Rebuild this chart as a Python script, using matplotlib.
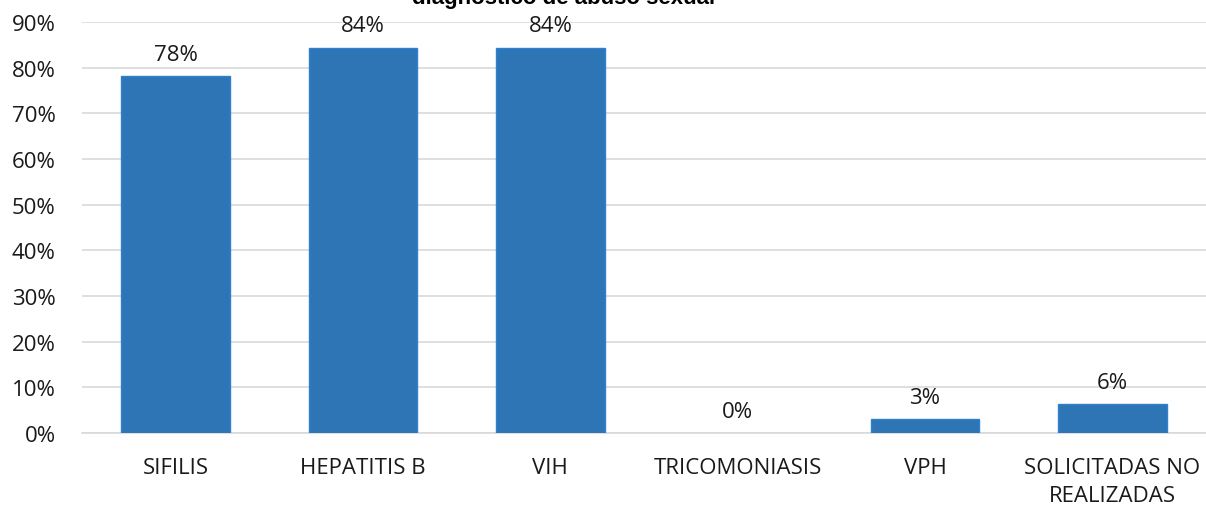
import numpy as np
import matplotlib.pyplot as plt

categorias = ['SIFILIS', 'HEPATITIS B', 'VIH', 'TRICOMONIASIS', 'VPH',
              'SOLICITADAS NO\nREALIZADAS']
valores = [78.1, 84.4, 84.4, 0.0, 3.1, 6.25]
etiquetas = ['78%', '84%', '84%', '0%', '3%', '6%']
yticks = np.arange(0, 91, 10)

plt.rcParams['font.family'] = ['Open Sans', 'DejaVu Sans']

fig = plt.figure(figsize=(12.06, 5.1), dpi=100)
ax = fig.add_axes([0.068, 0.149, 0.932, 0.806])

x = np.arange(len(categorias))
# no outline on empty bars so the 0% category shows nothing
bordes = [1 if v > 0 else 0 for v in valores]
ax.bar(x, valores, width=0.58, color='#2E75B6', edgecolor='#2F80D0',
       linewidth=bordes, zorder=3)

for xi, v, lab in zip(x, valores, etiquetas):
    ax.annotate(lab, (xi, v), xytext=(0, 8), textcoords='offset points',
                ha='center', va='bottom', fontsize=16, color='#1A1A1A')

ax.set_xlim(-0.5, len(categorias) - 0.5)
ax.set_ylim(0, 90)
ax.set_yticks(yticks)
ax.set_yticklabels([f'{t}%' for t in yticks])
ax.set_xticks(x)
ax.set_xticklabels(categorias, linespacing=1.45, va='top')

ax.grid(axis='y', color='#D9D9D9', linewidth=1.2, zorder=0)
for s in ['top', 'right', 'left']:
    ax.spines[s].set_visible(False)
ax.spines['bottom'].set_color('#D9D9D9')
ax.spines['bottom'].set_linewidth(1.2)
ax.tick_params(axis='both', length=0, labelsize=16, colors='#1A1A1A')
ax.tick_params(axis='y', pad=19)
ax.tick_params(axis='x', pad=17)

fig.text(0.467, 0.992, 'diagnóstico de abuso sexual', ha='center', va='baseline',
         fontsize=16, fontweight='bold', family=['Liberation Sans', 'DejaVu Sans'])

fig.savefig('out.png', dpi=100)
